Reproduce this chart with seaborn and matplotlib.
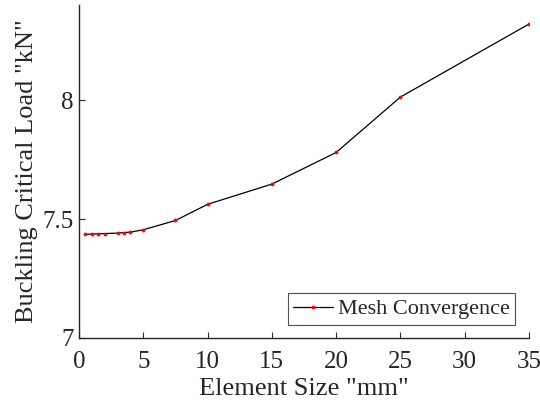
import matplotlib
matplotlib.use("Agg")
import matplotlib.pyplot as plt
import seaborn as sns
import pandas as pd

element_size = [0.5, 1, 1.5, 2, 3, 3.5, 4, 5, 7.5, 10, 15, 20, 25, 35]
critical_load = [7.436, 7.437, 7.438, 7.439, 7.441, 7.443, 7.445, 7.455, 7.494, 7.562, 7.647, 7.78, 8.013, 8.32]

sns.set_theme(style="ticks")
plt.rcParams['font.family'] = ['Liberation Serif', 'DejaVu Serif']
plt.rcParams['mathtext.fontset'] = 'stix'

df = pd.DataFrame({"size": element_size, "load": critical_load})

fig = plt.figure(figsize=(5.4, 4.08), dpi=100)
ax = fig.add_axes([79/540, 1-338/408, (529-79)/540, (338-5)/408])
sns.lineplot(data=df, x="size", y="load", ax=ax, color="black", linewidth=0.9,
             marker="o", markersize=2.0, markerfacecolor="red", markeredgecolor="red",
             label="Mesh Convergence")
ax.set_xlim(0, 35)
ax.set_ylim(7, 8.4)
ax.set_xticks([0, 5, 10, 15, 20, 25, 30, 35])
ax.set_yticks([7, 7.5, 8])
ax.set_yticklabels(["7", "7.5", "8"])
ax.tick_params(direction="in", labelsize=18, length=4, width=0.8, colors="#262626", labelcolor="#262626")
ax.tick_params(axis="x", pad=9)
ax.tick_params(axis="y", pad=4)
for s in ["top", "right"]:
    ax.spines[s].set_visible(False)
for s in ["left", "bottom"]:
    ax.spines[s].set_color("#262626")
    ax.spines[s].set_linewidth(1.0)
ax.set_xlabel('Element Size "mm"', fontsize=19, color="#262626", labelpad=4)
ax.set_ylabel('Buckling Critical Load "kN"', fontsize=19, color="#262626", labelpad=3)
leg = ax.legend(loc="lower right", fontsize=16, frameon=True, fancybox=False,
                edgecolor="#262626", handlelength=1.8, handletextpad=0.2,
                borderpad=0.25, borderaxespad=0, bbox_to_anchor=(0.969, 0.039))
leg.get_frame().set_linewidth(0.8)
fig.savefig("out.png", dpi=100)
